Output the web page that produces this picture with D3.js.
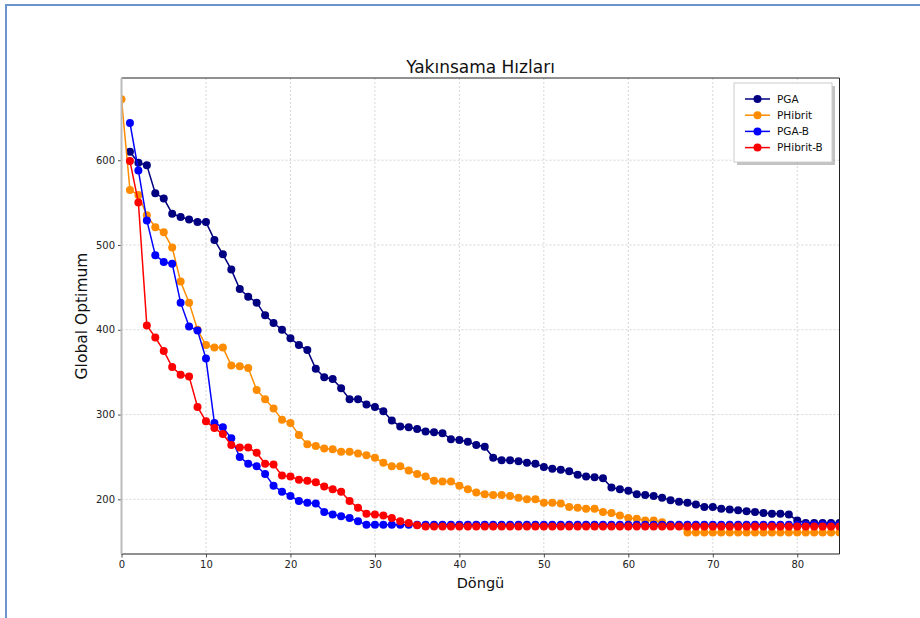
<!DOCTYPE html>
<html>
<head>
<meta charset="utf-8">
<script src="https://cdn.jsdelivr.net/npm/d3@7"></script>
<style>
  body { margin: 0; background: #fff; }
  svg { display: block; font-family: "DejaVu Sans", sans-serif; }
</style>
</head>
<body>
<svg width="920" height="618"></svg>
<script>
// iteration where each series begins
const pgaStart = 1;
const phibritStart = 0;
const pgaBStart = 1;
const phibritBStart = 1;

const pgaValues = [610, 597, 594, 561, 555, 537, 533, 530, 527, 527,
    506, 489, 471, 448, 439, 432, 417, 408, 400, 390,
    382, 376, 354, 344, 342, 331, 318, 318, 312, 309,
    304, 293, 286, 285, 283, 280, 279, 278, 271, 270,
    268, 264, 262, 249, 246, 246, 245, 243, 242, 238,
    236, 235, 233, 229, 227, 226, 225, 214, 212, 210,
    206, 205, 204, 202, 199, 197, 196, 194, 191, 191,
    189, 188, 187, 186, 185, 184, 183, 183, 182, 175,
    172, 172, 172, 172, 172];

const phibritValues = [672, 565, 559, 535, 521, 515, 497, 457, 432, 400,
    382, 379, 379, 358, 357, 355, 329, 318, 307, 294,
    290, 276, 265, 263, 260, 259, 256, 256, 254, 252,
    249, 243, 239, 239, 234, 230, 227, 222, 221, 221,
    216, 212, 208, 206, 205, 205, 204, 202, 200, 200,
    196, 196, 195, 191, 190, 189, 189, 185, 184, 181,
    178, 177, 175, 175, 173, 170, 169, 161, 161, 161,
    161, 161, 161, 161, 161, 161, 161, 161, 161, 161,
    161, 161, 161, 161, 161, 161];

const pgaBValues = [644, 588, 529, 488, 480, 478, 432, 404, 399, 366,
    290, 285, 272, 250, 242, 239, 230, 216, 209, 204,
    198, 196, 195, 185, 182, 180, 178, 174, 170, 170,
    170, 170, 170, 170, 170, 170, 170, 170, 170, 170,
    170, 170, 170, 170, 170, 170, 170, 170, 170, 170,
    170, 170, 170, 170, 170, 170, 170, 170, 170, 170,
    170, 170, 170, 170, 170, 170, 170, 170, 170, 170,
    170, 170, 170, 170, 170, 170, 170, 170, 170, 170,
    170, 170, 170, 170, 170];

const phibritBValues = [599, 550, 405, 391, 375, 356, 347, 345, 309, 292,
    284, 277, 264, 261, 261, 255, 242, 241, 228, 227,
    223, 222, 220, 215, 212, 209, 198, 190, 183, 182,
    181, 178, 174, 172, 169.5, 168, 168, 168, 168, 168,
    168, 168, 168, 168, 168, 168, 168, 168, 168, 168,
    168, 168, 168, 168, 168, 168, 168, 168, 168, 168,
    168, 168, 168, 168, 168, 168, 168, 168, 168, 168,
    168, 168, 168, 168, 168, 168, 168, 168, 168, 168,
    168, 168, 168, 168, 168];

const seriesNames = ['PGA', 'PHibrit', 'PGA-B', 'PHibrit-B'];
const seriesColors = ['#000080', '#ff8c00', '#0000ff', '#ff0000'];
const xTicks = [0, 10, 20, 30, 40, 50, 60, 70, 80];
const yTicks = [200, 300, 400, 500, 600];

const series = [
    { name: seriesNames[0], color: seriesColors[0], start: pgaStart, values: pgaValues },
    { name: seriesNames[1], color: seriesColors[1], start: phibritStart, values: phibritValues },
    { name: seriesNames[2], color: seriesColors[2], start: pgaBStart, values: pgaBValues },
    { name: seriesNames[3], color: seriesColors[3], start: phibritBStart, values: phibritBValues },
].map(s => ({ ...s, points: s.values.map((v, i) => [s.start + i, v]) }));

const svg = d3.select('svg');
const pL = 121.5, pR = 839.5, pT = 78, pB = 554;

const x = d3.scaleLinear().domain([0, 85]).range([pL, pR]);
const y = d3.scaleLinear().domain([135.5, 697]).range([pB, pT]);

// page frame
svg.append('path')
    .attr('d', 'M6,640 V5 H940')
    .attr('fill', 'none')
    .attr('stroke', '#6b93cc')
    .attr('stroke-width', 2);

// grid
svg.append('g').selectAll('line')
    .data(xTicks.slice(1))
    .enter().append('line')
    .attr('x1', d => x(d)).attr('x2', d => x(d))
    .attr('y1', pT).attr('y2', pB)
    .attr('stroke', '#c4c4c4').attr('stroke-width', 0.7)
    .attr('stroke-dasharray', '2,2');

svg.append('g').selectAll('line')
    .data(yTicks)
    .enter().append('line')
    .attr('x1', pL).attr('x2', pR)
    .attr('y1', d => y(d)).attr('y2', d => y(d))
    .attr('stroke', '#c4c4c4').attr('stroke-width', 0.7)
    .attr('stroke-dasharray', '2,2');

// axes
const xAxis = svg.append('g')
    .attr('transform', `translate(0,${pB})`)
    .call(d3.axisBottom(x).tickValues(xTicks).tickSize(3.5).tickPadding(3));
const yAxis = svg.append('g')
    .attr('transform', `translate(${pL},0)`)
    .call(d3.axisLeft(y).tickValues(yTicks).tickSize(3.5).tickPadding(3));
[xAxis, yAxis].forEach(a => {
    a.select('.domain').remove();
    a.selectAll('text').attr('font-size', 10).attr('fill', '#222')
        .attr('font-family', '"DejaVu Sans", sans-serif');
    a.selectAll('line').attr('stroke', '#222').attr('stroke-width', 0.8);
});

// data
svg.append('clipPath').attr('id', 'plot')
    .append('rect').attr('x', pL).attr('y', pT)
    .attr('width', pR - pL).attr('height', pB - pT);

const line = d3.line().x(d => x(d[0])).y(d => y(d[1]));
const plot = svg.append('g').attr('clip-path', 'url(#plot)');

series.forEach(s => {
    const g = plot.append('g');
    g.append('path')
        .attr('d', line(s.points))
        .attr('fill', 'none')
        .attr('stroke', s.color)
        .attr('stroke-width', 1.5);
    g.selectAll('circle')
        .data(s.points)
        .enter().append('circle')
        .attr('cx', d => x(d[0]))
        .attr('cy', d => y(d[1]))
        .attr('r', 4)
        .attr('fill', s.color);
});

// spines
svg.append('line').attr('x1', pL).attr('x2', pR).attr('y1', pT).attr('y2', pT)
    .attr('stroke', '#222').attr('stroke-width', 1);
svg.append('line').attr('x1', pR).attr('x2', pR).attr('y1', pT).attr('y2', pB)
    .attr('stroke', '#222').attr('stroke-width', 1);
svg.append('line').attr('x1', pL).attr('x2', pR).attr('y1', pB).attr('y2', pB)
    .attr('stroke', '#222').attr('stroke-width', 1.2);
svg.append('line').attr('x1', pL).attr('x2', pL).attr('y1', pT).attr('y2', pB)
    .attr('stroke', '#bbbbbb').attr('stroke-width', 2);

// titles
svg.append('text')
    .attr('x', (pL + pR) / 2).attr('y', 73)
    .attr('text-anchor', 'middle')
    .attr('font-size', 17).attr('fill', '#111')
    .text('Yakınsama Hızları');

svg.append('text')
    .attr('x', (pL + pR) / 2).attr('y', 588)
    .attr('text-anchor', 'middle')
    .attr('font-size', 14.5).attr('fill', '#111')
    .text('Döngü');

svg.append('text')
    .attr('transform', `translate(87,${(pT + pB) / 2}) rotate(-90)`)
    .attr('text-anchor', 'middle')
    .attr('font-size', 15.5).attr('fill', '#111')
    .text('Global Optimum');

// legend
const lg = svg.append('g').attr('transform', 'translate(734,83)');
lg.append('rect').attr('x', 3).attr('y', 3).attr('width', 98).attr('height', 79)
    .attr('fill', '#888').attr('opacity', 0.5);
lg.append('rect').attr('x', 0).attr('y', 0).attr('width', 98).attr('height', 79)
    .attr('fill', '#fff').attr('stroke', '#cccccc').attr('stroke-width', 1);

const items = lg.selectAll('g.item')
    .data(series)
    .enter().append('g')
    .attr('class', 'item')
    .attr('transform', (d, i) => `translate(0,${16 + i * 16.2})`);
items.append('line').attr('x1', 11).attr('x2', 36).attr('y1', 0).attr('y2', 0)
    .attr('stroke', d => d.color).attr('stroke-width', 1.5);
items.append('circle').attr('cx', 23.5).attr('cy', 0).attr('r', 4)
    .attr('fill', d => d.color);
items.append('text').attr('x', 43).attr('y', 3.5)
    .attr('font-size', 10.5).attr('fill', '#111')
    .text(d => d.name);
</script>
</body>
</html>
